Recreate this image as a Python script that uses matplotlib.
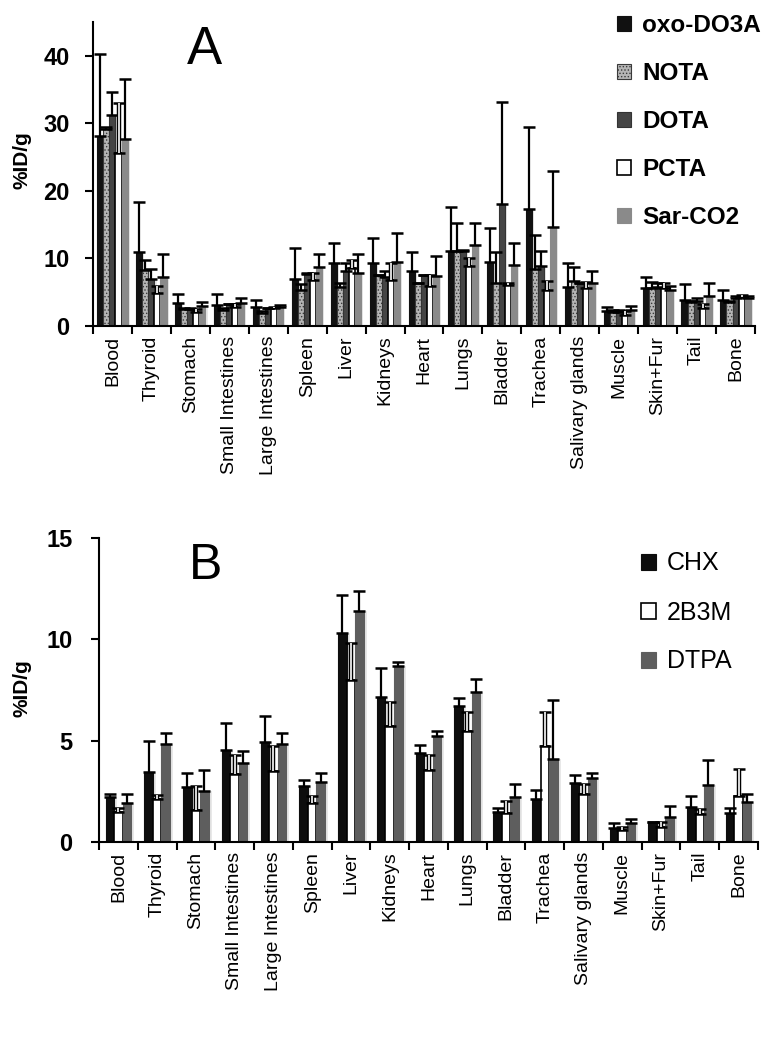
import matplotlib
matplotlib.use("Agg")
import matplotlib.pyplot as plt
import numpy as np

plt.rcParams['font.family'] = ['Liberation Sans', 'DejaVu Sans']
plt.rcParams['hatch.linewidth'] = 0.6

organs = ['Blood', 'Thyroid', 'Stomach', 'Small Intestines', 'Large Intestines',
          'Spleen', 'Liver', 'Kidneys', 'Heart', 'Lungs', 'Bladder', 'Trachea',
          'Salivary glands', 'Muscle', 'Skin+Fur', 'Tail', 'Bone']

# panel A: mean %ID/g and upper error
oxo_do3a = [28.1, 10.9, 3.4, 3.1, 2.8, 7.0, 9.3, 9.3, 8.1, 11.1, 9.5, 17.3, 5.8, 2.2, 5.6, 3.9, 3.9]
oxo_do3a_err = [12.1, 7.5, 1.3, 1.6, 1.1, 4.5, 3.0, 3.8, 2.8, 6.5, 5.0, 12.2, 3.5, 0.6, 1.6, 2.3, 1.4]
nota = [29.1, 8.3, 2.5, 2.4, 1.9, 5.3, 5.8, 7.5, 6.3, 11.1, 6.3, 8.5, 6.6, 2.1, 5.6, 3.6, 3.5]
nota_err = [0.4, 1.4, 0.1, 0.3, 0.3, 0.9, 0.6, 0.1, 0.1, 4.2, 4.6, 4.9, 2.1, 0.3, 0.9, 0.1, 0.2]
dota = [31.2, 7.0, 2.5, 3.2, 2.6, 7.7, 8.1, 7.2, 7.5, 11.1, 18.0, 8.9, 6.3, 2.1, 5.8, 3.7, 4.1]
dota_err = [3.4, 1.4, 0.1, 0.1, 0.1, 0.1, 1.2, 0.9, 0.1, 0.1, 15.2, 2.2, 0.1, 0.3, 0.6, 0.4, 0.4]
pcta = [25.6, 4.9, 2.1, 2.8, 2.6, 6.8, 8.6, 6.8, 5.9, 8.9, 6.1, 5.4, 5.6, 1.7, 5.6, 2.6, 4.3]
pcta_err = [7.4, 1.0, 0.4, 0.5, 0.2, 1.0, 1.1, 2.5, 1.6, 1.1, 0.2, 1.2, 0.9, 0.5, 0.7, 0.6, 0.3]
sar_co2 = [27.7, 7.3, 2.9, 3.4, 2.8, 8.7, 7.9, 9.5, 7.4, 12.0, 9.1, 14.7, 6.4, 2.3, 5.3, 4.4, 4.2]
sar_co2_err = [8.8, 3.3, 0.7, 0.8, 0.3, 1.9, 2.7, 4.2, 2.9, 3.3, 3.2, 8.2, 1.7, 0.7, 0.6, 2.0, 0.2]

# panel B
chx = [2.2, 3.45, 2.7, 4.55, 4.95, 2.75, 10.3, 7.15, 4.4, 6.7, 1.5, 2.1, 2.9, 0.7, 1.0, 1.75, 1.45]
chx_err = [0.15, 1.55, 0.7, 1.3, 1.25, 0.3, 1.9, 1.45, 0.4, 0.4, 0.2, 0.45, 0.4, 0.25, 0.0, 0.5, 0.25]
b3m = [1.5, 2.1, 1.6, 3.35, 3.5, 1.9, 8.0, 5.7, 3.55, 5.5, 1.45, 4.75, 2.35, 0.6, 0.75, 1.4, 2.25]
b3m_err = [0.2, 0.2, 1.15, 0.95, 1.25, 0.35, 1.8, 1.2, 0.75, 0.9, 0.55, 1.65, 0.5, 0.15, 0.25, 0.25, 1.35]
dtpa = [1.9, 4.85, 2.5, 3.9, 4.85, 2.95, 11.4, 8.7, 5.25, 7.4, 2.2, 4.1, 3.15, 0.95, 1.25, 2.8, 1.95]
dtpa_err = [0.45, 0.55, 1.05, 0.6, 0.55, 0.45, 1.0, 0.2, 0.25, 0.65, 0.65, 2.9, 0.25, 0.2, 0.55, 1.25, 0.4]

W, H = 772, 1049
fig = plt.figure(figsize=(W / 100, H / 100), dpi=100)


def add_ax(left, top, right, bottom):
    return fig.add_axes([left / W, 1 - bottom / H, (right - left) / W, (bottom - top) / H])


def draw_panel(ax, series, width, ymax, yticks, ypad):
    n = len(series)
    x = np.arange(len(organs)) + 0.5
    handles = []
    for k, (name, vals, errs, style) in enumerate(series):
        pos = x + (k - (n - 1) / 2) * width
        vals = np.array(vals)
        errs = np.array(errs)
        # soft shadow to the right of the bars
        ax.bar(pos + width * 0.35, vals, width, color='#d9d9d9', alpha=0.6, zorder=1, linewidth=0)
        b = ax.bar(pos, vals, width, zorder=2, label=name, **style)
        handles.append(b)
        hollow = style.get('facecolor') == 'white'
        ax.errorbar(pos, vals, yerr=[np.zeros_like(errs), errs], fmt='none', ecolor='black',
                    elinewidth=3.2 if hollow else 1.6, capsize=4, capthick=1.8, zorder=3)
        if hollow:
            ax.vlines(pos, vals, vals + errs, color='white', lw=1.2, zorder=4)
    ax.set_xlim(0, len(organs))
    ax.set_ylim(0, ymax)
    ax.set_yticks(yticks)
    ax.set_yticklabels([str(t) for t in yticks], fontsize=17, fontweight='bold')
    ax.set_xticks(np.arange(len(organs) + 1))
    ax.set_xticklabels([])
    ax.set_xticks(x, minor=True)
    ax.set_xticklabels(organs, minor=True, rotation=90, fontsize=14, va='top', ha='center')
    ax.tick_params(axis='x', which='minor', length=0, pad=7)
    ax.tick_params(axis='x', which='major', length=6, width=1.5, direction='out')
    ax.tick_params(axis='y', length=6, width=1.5, direction='out', pad=ypad)
    for s in ['top', 'right']:
        ax.spines[s].set_visible(False)
    for s in ['left', 'bottom']:
        ax.spines[s].set_linewidth(1.5)
    return handles


axA = add_ax(93, 22, 755, 326)
seriesA = [
    ('oxo-DO3A', oxo_do3a, oxo_do3a_err, dict(facecolor='#111111', edgecolor='#111111', linewidth=0.8)),
    ('NOTA', nota, nota_err, dict(facecolor='#b5b5b5', edgecolor='#3a3a3a', hatch='.....', linewidth=0.8)),
    ('DOTA', dota, dota_err, dict(facecolor='#454545', edgecolor='#333333', linewidth=0.8)),
    ('PCTA', pcta, pcta_err, dict(facecolor='white', edgecolor='black', linewidth=1.2)),
    ('Sar-CO2', sar_co2, sar_co2_err, dict(facecolor='#8a8a8a', edgecolor='#8a8a8a', linewidth=0.8)),
]
hA = draw_panel(axA, seriesA, 0.155, 45, [0, 10, 20, 30, 40], 11)
axA.text(0.169, 0.99, 'A', transform=axA.transAxes, fontsize=38, va='top', ha='center')
axA.legend(handles=hA, loc='upper left', bbox_to_anchor=(595 / W, 1 + 8 / H),
           bbox_transform=fig.transFigure, frameon=False, prop=dict(size=17.5, weight='bold'),
           handlelength=0.6, handleheight=0.6, handletextpad=0.45, labelspacing=1.03)

axB = add_ax(99, 538, 758, 842)
seriesB = [
    ('CHX', chx, chx_err, dict(facecolor='#0d0d0d', edgecolor='#0d0d0d', linewidth=0.8)),
    ('2B3M', b3m, b3m_err, dict(facecolor='white', edgecolor='black', linewidth=1.2)),
    ('DTPA', dtpa, dtpa_err, dict(facecolor='#5e5e5e', edgecolor='#5e5e5e', linewidth=0.8)),
]
hB = draw_panel(axB, seriesB, 0.22, 15, [0, 5, 10, 15], 13)
axB.text(0.161, 0.985, 'B', transform=axB.transAxes, fontsize=36, va='top', ha='center')
axB.legend(handles=hB, loc='upper left', bbox_to_anchor=(618 / W, 1 - 529 / H),
           bbox_transform=fig.transFigure, frameon=False, prop=dict(size=18),
           handlelength=0.6, handleheight=0.6, handletextpad=0.45, labelspacing=1.0)

fig.text(22 / W, 1 - 160 / H, '%ID/g', rotation=90, fontsize=15, fontweight='bold',
         ha='center', va='center')
fig.text(22 / W, 1 - 688 / H, '%ID/g', rotation=90, fontsize=15, fontweight='bold',
         ha='center', va='center')

fig.savefig('out.png', dpi=100)
